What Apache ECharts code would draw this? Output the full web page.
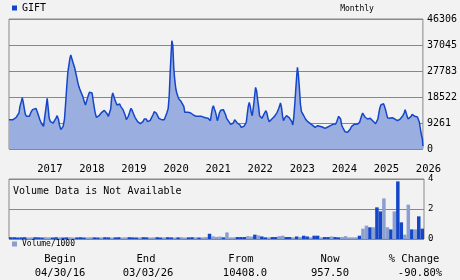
<!DOCTYPE html>
<html><head><meta charset="utf-8">
<script src="https://cdn.jsdelivr.net/npm/echarts@6/dist/echarts.min.js"></script>
<style>html,body{margin:0;padding:0;background:#f2f2f2;}#c{width:460px;height:280px;}</style>
</head><body><div id="c"></div>
<script>
// ---------- data ----------
const symbolName = 'GIFT';
const periodLabel = 'Monthly';
const volumeName = 'Volume/1000';
const volumeNote = 'Volume Data is Not Available';
// price dates as decimal years (04/30/16 .. 03/03/26)
const priceDates = [
2016.329,2016.424,2016.447,2016.495,2016.542,2016.566,2016.589,2016.621,2016.645,2016.668,2016.692,2016.716,2016.747,2016.779,2016.811,2016.834,2016.858,2016.890,2016.921,2016.969,
2017.000,2017.032,2017.063,2017.095,2017.127,2017.150,2017.174,2017.206,2017.237,2017.261,2017.285,2017.316,2017.348,2017.379,2017.411,2017.443,2017.474,2017.506,2017.529,2017.561,
2017.593,2017.616,2017.648,2017.672,2017.695,2017.727,2017.751,2017.774,2017.798,2017.822,2017.845,2017.869,2017.893,2017.916,2017.940,2017.964,2017.988,2018.011,2018.035,2018.059,
2018.090,2018.122,2018.146,2018.169,2018.193,2018.217,2018.241,2018.272,2018.304,2018.327,2018.351,2018.375,2018.406,2018.438,2018.469,2018.501,2018.533,2018.564,2018.596,2018.627,
2018.659,2018.691,2018.722,2018.746,2018.770,
2018.794,2018.817,2018.841,2018.865,2018.896,2018.928,2018.960,2018.983,2019.007,2019.039,2019.070,2019.094,2019.118,2019.141,2019.165,2019.197,2019.228,2019.260,2019.291,2019.323,
2019.355,2019.386,2019.418,2019.449,2019.481,2019.513,2019.544,2019.568,2019.592,2019.623,2019.655,2019.686,2019.718,2019.750,2019.781,2019.797,2019.829,2019.860,2019.892,2019.923,
2019.955,2020.018,2020.050,2020.081,2020.113,2020.137,2020.160,2020.184,2020.200,2020.223,2020.247,2020.271,2020.295,2020.318,2020.342,2020.366,2020.389,2020.413,2020.437,2020.460,
2020.484,2020.508,2020.532,2020.555,2020.587,2020.618,2020.650,2020.682,2020.713,2020.745,2020.776,2020.808,2020.840,2020.871,2020.903,2020.934,2020.998,2021.061,2021.092,2021.116,
2021.140,2021.163,2021.187,2021.211,2021.234,
2021.258,2021.281,2021.305,2021.329,2021.360,2021.392,2021.424,2021.455,2021.479,2021.503,2021.534,2021.566,2021.597,2021.629,2021.661,2021.692,2021.724,2021.755,2021.787,2021.819,
2021.850,2021.882,2021.913,2021.945,2021.969,2021.992,2022.016,2022.040,2022.063,2022.087,2022.111,2022.135,2022.150,2022.174,2022.190,2022.214,2022.237,2022.261,2022.285,2022.308,
2022.340,2022.372,2022.403,2022.435,2022.458,2022.482,2022.514,2022.545,2022.577,2022.608,2022.640,2022.672,2022.703,2022.735,2022.758,2022.782,2022.806,2022.830,2022.853,2022.877,
2022.901,2022.924,2022.956,2022.988,2023.019,2023.051,2023.074,2023.098,2023.122,2023.146,2023.169,2023.185,2023.209,2023.233,2023.256,2023.280,2023.304,2023.327,2023.351,2023.375,
2023.398,2023.430,2023.462,2023.493,2023.525,2023.556,2023.580,2023.604,2023.635,2023.667,2023.714,
2023.778,2023.810,2023.841,2023.873,2023.904,2023.936,2023.968,2023.999,2024.031,2024.094,2024.118,2024.141,2024.165,2024.189,2024.212,2024.236,2024.260,2024.284,2024.315,2024.347,
2024.378,2024.410,2024.442,2024.473,2024.505,2024.536,2024.568,2024.600,2024.631,2024.663,2024.686,2024.710,2024.734,2024.758,2024.789,2024.821,2024.852,2024.884,2024.915,2024.947,
2024.979,2025.010,2025.042,2025.073,2025.097,2025.121,2025.145,2025.168,2025.200,2025.231,2025.255,2025.279,2025.302,2025.326,2025.350,2025.374,2025.405,2025.437,2025.468,2025.500,
2025.532,2025.563,2025.595,2025.626,2025.658,2025.690,2025.721,2025.745,2025.769,2025.792,2025.816,2025.840,2025.863,2025.887,2025.911,2025.942,2025.974,2026.005,2026.037,2026.061,
2026.084,2026.108,2026.132,2026.156,2026.167
];
const priceValues = [
10408,10450,10920,11160,11630,12820,15190,16860,18280,16620,14480,12460,11630,11160,11630,12460,13290,14010,14240,14480,
13290,11870,10450,9260,8550,8070,10920,14480,18040,14480,10920,9730,9500,9260,10090,10920,11870,10450,8550,6890,
7360,8070,10680,15670,20770,27300,29680,32050,33470,32290,31100,29910,28730,27060,25520,23740,22320,21370,20420,19590,
18400,16620,15670,16860,18040,19230,20180,20420,19940,17570,15190,13060,11280,11630,11870,12350,13060,13290,13770,13530,
12580,11630,11160,14240,18280,
19940,18990,17810,16860,15670,16030,16030,15190,14480,14010,12820,11870,10450,10090,11630,13060,14480,13650,12460,11280,
10680,9730,9260,9020,8780,9730,10680,11160,10680,9730,9730,10210,11160,12110,13290,13770,12820,11870,10920,10680,
10450,10450,11160,12820,14480,18990,27300,34420,38580,36800,28490,24330,21370,19940,18760,17810,17330,17090,16860,16380,
15190,13060,12580,12820,13060,13290,12820,12460,12110,11870,11630,11870,11630,11870,11630,11280,11160,10920,10680,10090,
12460,14480,15430,14240,13290,
11870,10090,11160,12820,13770,14010,14010,13530,12110,10920,10210,9500,8780,8310,9260,10450,9970,9260,9020,8550,
7720,7360,8070,8070,9500,12460,15190,16620,15190,13060,11870,11630,16380,19940,21960,20770,17810,15190,11870,11400,
10920,11870,12820,13650,12820,11160,9730,10090,10680,11160,11630,12110,13060,14240,15190,16380,14840,11870,10090,10920,
11630,11870,11280,11160,10450,9730,8550,11280,16030,21370,26350,29080,26110,21370,16030,13290,12820,12110,11400,10680,
10090,9730,9500,9020,8550,8310,7600,7720,8070,8310,8310,
7830,7720,7360,7600,7830,8070,8310,8550,8780,8900,9730,10680,11630,12110,10680,8550,7720,7120,6170,5700,
5940,6410,7120,8070,8780,8780,8550,8780,9020,9500,10680,11870,12820,12110,11400,11160,10680,10920,10920,10450,
9970,9500,9020,8550,10680,12820,14720,15670,15910,16140,15190,14010,12580,11160,11160,10920,11630,11160,10920,10680,
10450,10090,10450,10680,10920,11870,12820,14010,12820,11630,10680,9970,10920,11630,12350,11870,11630,11630,11400,11160,
9500,7120,4990,3560,957.5
];
const priceTickLabels = ['0','9261','18522','27783','37045','46306'];
const volTickLabels = ['0','2','4'];
// monthly volume (thousands), May 2016 .. Mar 2026
const volStartYear = 2016, volStartMonth = 5;
const volValues = [
0.12,0.12,0.10,0.11,0.12,0.10,0.11,0.12,0.11,0.10,0.12,0.11,0.10,0.12,0.11,0.10,0.11,0.12,0.10,0.11,
0.12,0.10,0.11,0.12,0.11,0.10,0.11,0.12,0.11,0.10,0.11,0.12,0.10,0.11,0.12,0.11,0.10,0.11,0.12,0.11,
0.10,0.11,0.12,0.10,0.11,0.12,0.11,0.10,0.11,0.12,0.10,0.11,0.12,0.11,0.10,0.11,0.13,0.35,0.18,0.14,
0.16,0.11,0.44,0.11,0.11,0.13,0.13,0.13,0.19,0.16,0.29,0.24,0.17,0.11,0.11,0.13,0.13,0.19,0.22,0.13,
0.13,0.11,0.17,0.13,0.22,0.17,0.11,0.22,0.22,0.11,0.13,0.13,0.17,0.13,0.11,0.13,0.19,0.11,0.11,0.11,
0.22,0.69,0.89,0.78,0.78,2.11,1.84,2.71,0.78,0.64,1.84,3.84,1.11,0.29,2.29,0.64,0.64,1.51,0.69
];
// 1 = dark bar, 0 = light bar
const volDark = [
1,1,1,1,1,0,0,1,1,1,0,0,1,1,0,1,1,0,0,1,
1,1,0,0,1,1,0,1,1,0,1,1,0,0,1,1,1,0,1,1,
0,0,1,1,0,1,1,0,1,0,0,1,1,0,1,0,0,1,0,0,
0,1,0,0,0,1,1,1,0,0,1,0,1,1,0,1,1,0,0,1,
1,0,1,0,1,1,0,1,1,0,1,1,0,1,1,0,0,0,0,0,
1,0,0,1,0,1,1,0,0,1,0,1,1,0,0,1,0,1,1
];
const summaryHeads = ['Begin','End','From','Now','% Change'];
const summaryVals = ['04/30/16','03/03/26','10408.0','957.50','-90.80%'];

// ---------- styles ----------
const FONT = '"DejaVu Sans Mono", "Liberation Mono", monospace';
const LINE = '#1446c8', AREA = '#9aaee0', DARK = '#1446c8', LIGHT = '#8a9fd0', GRID = '#888888';

const volCats = volValues.map((_, i) => {
  const m = volStartMonth - 1 + i;
  return (volStartYear + Math.floor(m / 12)) + '-' + String(m % 12 + 1).padStart(2, '0');
});
const pricePairs = priceDates.map((d, i) => [d, priceValues[i]]);

const headX = [60, 146, 241, 330, 414];
const valX = [60, 148, 245, 330, 420];
const graphics = [
  {type:'text', x:357, y:9, style:{text:periodLabel, font:'8px ' + FONT, fill:'#000', align:'center', verticalAlign:'middle'}},
  {type:'text', x:13, y:191, style:{text:volumeNote, font:'10px ' + FONT, fill:'#000', align:'left', verticalAlign:'middle'}}
];
summaryHeads.forEach((t, i) => graphics.push({type:'text', x:headX[i], y:259, style:{text:t, font:'10.5px ' + FONT, fill:'#000', align:'center', verticalAlign:'middle'}}));
summaryVals.forEach((t, i) => graphics.push({type:'text', x:valX[i], y:273, style:{text:t, font:'10.5px ' + FONT, fill:'#000', align:'center', verticalAlign:'middle'}}));

const chart = echarts.init(document.getElementById('c'), null, {renderer:'canvas'});
chart.setOption({
  animation: false,
  backgroundColor: '#f2f2f2',
  textStyle: {fontFamily: FONT},
  legend: [
    {data:[symbolName], left:12, top:3, padding:0, icon:'rect', itemWidth:5, itemHeight:5, itemGap:5,
     textStyle:{fontSize:10, fontFamily:FONT, color:'#000', padding:[0,0,0,0]}},
    {data:[volumeName], left:12, top:240, padding:0, icon:'rect', itemWidth:5, itemHeight:5,
     textStyle:{fontSize:8, fontFamily:FONT, color:'#000'}}
  ],
  grid: [
    {left:9, top:19, width:415, height:130, show:true, borderColor:GRID, borderWidth:1, backgroundColor:'transparent'},
    {left:9, top:179, width:415, height:60, show:true, borderColor:GRID, borderWidth:1, backgroundColor:'transparent'}
  ],
  xAxis: [
    {type:'value', gridIndex:0, min:priceDates[0], max:priceDates[priceDates.length-1],
     splitNumber:10, minInterval:1, maxInterval:1,
     axisLine:{show:false}, axisTick:{show:false}, splitLine:{show:false},
     axisLabel:{show:true, margin:15, align:'left', fontSize:10.5, fontFamily:FONT, color:'#000',
       showMinLabel:false, showMaxLabel:true,
       formatter: v => (Math.abs(v - Math.round(v)) < 1e-6 ? String(Math.round(v)) : '')}},
    {type:'category', gridIndex:1, data:volCats, boundaryGap:true,
     axisLine:{show:false}, axisTick:{show:false}, axisLabel:{show:false}, splitLine:{show:false}}
  ],
  yAxis: [
    {type:'value', gridIndex:0, position:'right', min:0, max:46306, interval:9261.2,
     axisLine:{show:false}, axisTick:{show:false},
     splitLine:{show:true, lineStyle:{color:GRID, width:1}},
     axisLabel:{margin:4, fontSize:10, fontFamily:FONT, color:'#000',
       formatter:(v, i) => priceTickLabels[i] ?? ''}},
    {type:'value', gridIndex:1, position:'right', min:0, max:4, interval:2,
     axisLine:{show:false}, axisTick:{show:false},
     splitLine:{show:true, lineStyle:{color:GRID, width:1}},
     axisLabel:{margin:4, fontSize:9, fontFamily:FONT, color:'#000',
       formatter:(v, i) => volTickLabels[i] ?? ''}}
  ],
  series: [
    {name:symbolName, type:'line', xAxisIndex:0, yAxisIndex:0, data:pricePairs,
     showSymbol:false, symbol:'none', lineStyle:{color:LINE, width:1.5}, itemStyle:{color:LINE},
     areaStyle:{color:AREA, opacity:1}},
    {name:volumeName, type:'bar', xAxisIndex:1, yAxisIndex:1, barWidth:'100%', barGap:'0%',
     itemStyle:{color:LIGHT},
     data: volValues.map((v, i) => ({value:v, itemStyle:{color: volDark[i] ? DARK : LIGHT}}))}
  ],
  graphic: graphics
});
</script>
</body></html>
